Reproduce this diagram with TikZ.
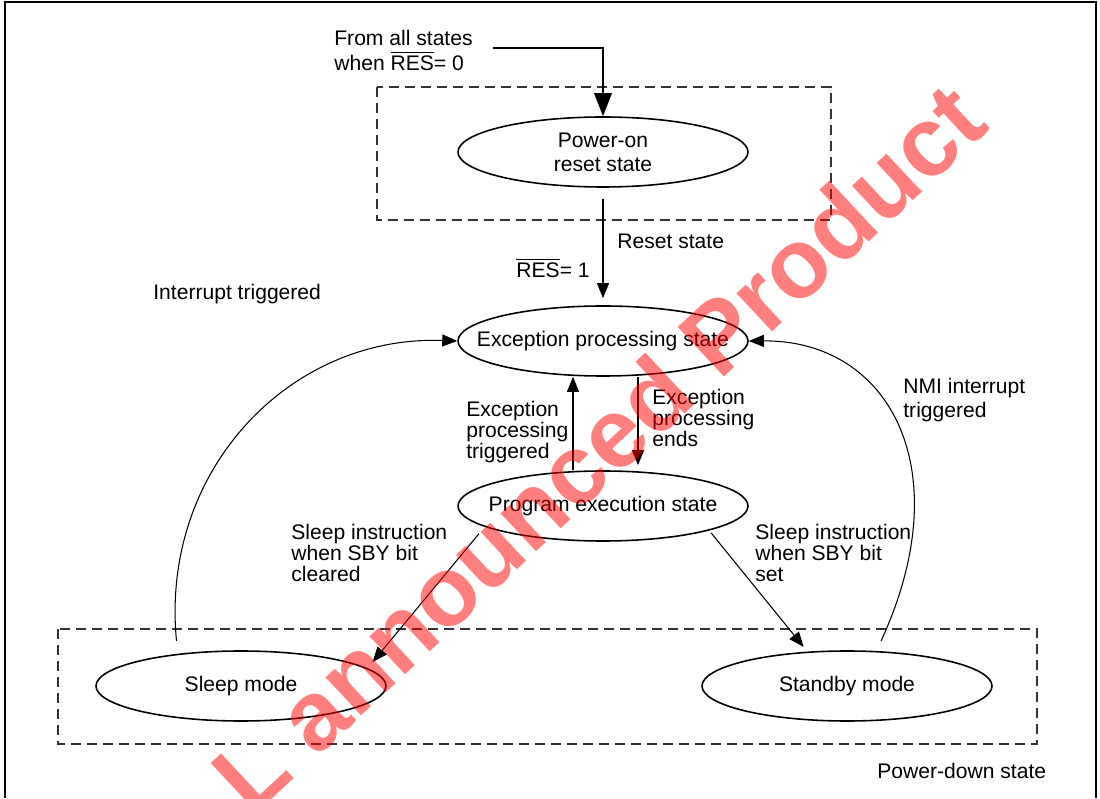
\documentclass[tikz,border=0pt]{standalone}
\usepackage{fontspec}
\setmainfont{Liberation Sans}
\usetikzlibrary{arrows.meta,shapes.geometric}
\newcommand{\resbar}{$\overline{\mbox{RES}}$}
\tikzset{
        state/.style={draw, ellipse, line width=0.9pt, minimum width=5.8cm, minimum height=1.4cm, inner xsep=-0.8cm, inner ysep=0pt, align=center, font=\fontsize{12}{13.5}\selectfont},
        lbl/.style={align=left, inner sep=0pt, font=\fontsize{12}{12.2}\selectfont},
        area/.style={dashed, dash pattern=on 0.2cm off 0.12cm, line width=0.7pt, black!80},
        flow/.style={-{Triangle[length=0.3cm, width=0.24cm]}, line width=0.6pt},
}
\begin{document}
\begin{tikzpicture}
        \useasboundingbox (0,0) rectangle (22,15.96);
        \draw [line width=1.1pt] (0.1,0) -- (0.1,15.92) -- (21.92,15.92) -- (21.92,0);
        \draw [area] (7.54,14.22) rectangle (16.62,11.56);
        \draw [area] (1.16,3.38) rectangle (20.74,1.08);
        \node [state] (0) at (12.06,12.92) {Power-on\\reset state};
        \node [state] (1) at (12.06,9.14) {Exception processing state};
        \node [state] (2) at (12.06,5.84) {Program execution state};
        \node [state] (3) at (4.82,2.24) {Sleep mode};
        \node [state] (4) at (16.94,2.24) {Standby mode};
        \coordinate (5) at (9.86,15.0);
        \node [lbl, anchor=west] (6) at (6.68,14.96) {From all states\\[2pt]when \resbar= 0};
        \draw [-{Triangle[length=0.46cm, width=0.35cm]}, line width=1.1pt] (5) -| (0);
        \draw [flow, shorten <=0.22cm, shorten >=0.14cm] (0) -- (1);
        \node [lbl, anchor=west] (7) at (12.34,11.14) {Reset state};
        \node [lbl, anchor=east] (8) at (11.8,10.6) {\resbar= 1};
        \draw [flow] ([xshift=-0.6cm]2.north) -- ([xshift=-0.6cm]1.south);
        \draw [flow, shorten >=0.1cm] ([xshift=0.7cm]1.south) -- ([xshift=0.7cm]2.north);
        \node [lbl, anchor=west] (9) at (9.32,7.32) {Exception\\processing\\triggered};
        \node [lbl, anchor=west] (10) at (13.04,7.6) {Exception\\processing\\ends};
        \draw [flow, shorten <=0.18cm, shorten >=0.16cm] (2.190) -- (3.8);
        \draw [flow, shorten <=0.06cm, shorten >=0.12cm] (2.-13) -- (4.139);
        \node [lbl, anchor=west] (11) at (5.82,4.9) {Sleep instruction\\when SBY bit\\cleared};
        \node [lbl, anchor=west] (12) at (15.1,4.9) {Sleep instruction\\when SBY bit\\set};
        \draw [flow, shorten <=0.26cm] (3.153) .. controls (3.2,6.56) and (5.8,9.26) .. (1.west);
        \draw [flow, shorten <=0.22cm] (4.50) .. controls (19.2,6.56) and (17.8,9.16) .. (1.east);
        \node [lbl, anchor=west] (13) at (3.06,10.08) {Interrupt triggered};
        \node [lbl, anchor=west] (14) at (18.06,7.96) {NMI interrupt\\[1.5pt]triggered};
        \node [lbl, anchor=west] (15) at (17.54,0.54) {Power-down state};
        \begin{scope}
                \clip (0,0) rectangle (22,15.96);
                \node [rotate=43, text=red, opacity=0.5, inner sep=0pt, font=\bfseries\fontsize{56}{56}\selectfont] (16) at (11.96,7.02) {L announced Product};
        \end{scope}
\end{tikzpicture}
\end{document}
